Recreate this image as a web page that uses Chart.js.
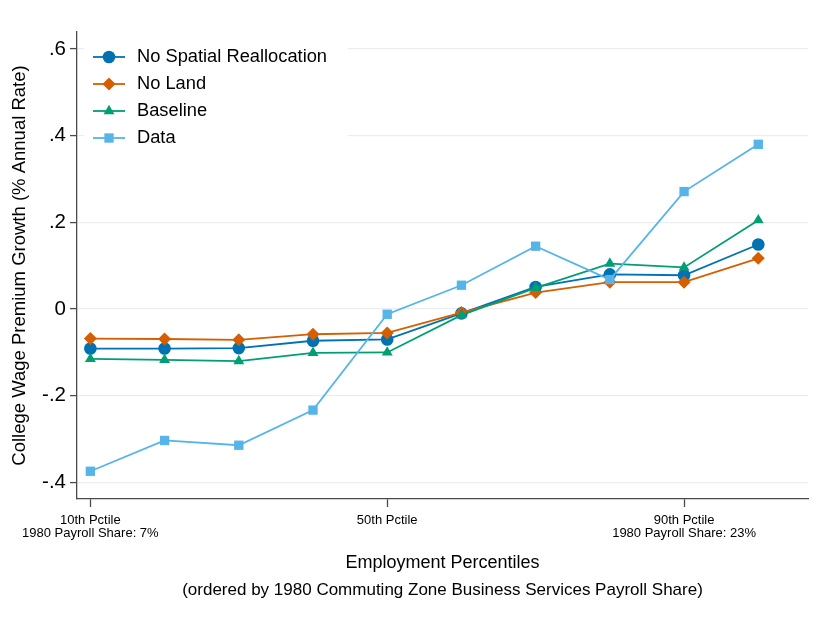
<!DOCTYPE html>
<html><head><meta charset="utf-8">
<script src="https://cdn.jsdelivr.net/npm/chart.js@4/dist/chart.umd.min.js"></script>
<style>html,body{margin:0;padding:0;background:#fff}#wrap{width:820px;height:624px;position:relative}</style>
</head><body><div id="wrap"><canvas id="c"></canvas></div>
<script>
const percentiles = [10, 20, 30, 40, 50, 60, 70, 80, 90, 100];
const noSpatialRealloc = [-0.091, -0.091, -0.090, -0.073, -0.070, -0.010, 0.051, 0.080, 0.078, 0.149];
const noLand = [-0.068, -0.069, -0.071, -0.058, -0.055, -0.008, 0.038, 0.062, 0.062, 0.117];
const baseline = [-0.115, -0.117, -0.120, -0.101, -0.100, -0.014, 0.049, 0.105, 0.096, 0.205];
const dataSeries = [-0.374, -0.303, -0.314, -0.233, -0.012, 0.055, 0.145, 0.068, 0.271, 0.380];
const seriesNames = ['No Spatial Reallocation', 'No Land', 'Baseline', 'Data'];
const yTickValues = [-0.4, -0.2, 0, 0.2, 0.4, 0.6];
const xTickValues = [10, 50, 90];
const xTickLabels = [['10th Pctile', '1980 Payroll Share: 7%'], ['50th Pctile'], ['90th Pctile', '1980 Payroll Share: 23%']];
const xTitle = 'Employment Percentiles';
const xSubtitle = '(ordered by 1980 Commuting Zone Business Services Payroll Share)';
const yTitle = 'College Wage Premium Growth (% Annual Rate)';

const FONT = "'Liberation Sans', Arial, Helvetica, sans-serif";
const colors = ['#0072B2', '#D55E00', '#009E73', '#56B4E9'];
const styles = ['circle', 'rectRot', 'triangle', 'rect'];
const radii = [6.3, 6.5, 6.3, 6.6];
const seriesValues = [noSpatialRealloc, noLand, baseline, dataSeries];
const drawOrder = [3, 2, 1, 0];

const datasets = seriesValues.map((vals, i) => ({
  label: seriesNames[i],
  data: percentiles.map((p, j) => ({x: p, y: vals[j]})),
  borderColor: colors[i],
  backgroundColor: colors[i],
  pointBackgroundColor: colors[i],
  pointBorderColor: colors[i],
  pointBorderWidth: 0,
  pointStyle: styles[i],
  pointRadius: radii[i],
  pointHoverRadius: radii[i],
  borderWidth: 1.8,
  tension: 0,
  showLine: true,
  order: drawOrder[i]
}));

const insideLegend = {
  id: 'insideLegend',
  afterDatasetsDraw(chart) {
    const ctx = chart.ctx;
    ctx.save();
    ctx.fillStyle = '#fff';
    ctx.fillRect(84, 38, 264, 114);
    seriesNames.forEach((name, i) => {
      const y = 57 + i * 27;
      ctx.strokeStyle = colors[i];
      ctx.lineWidth = 1.8;
      ctx.beginPath(); ctx.moveTo(93, y); ctx.lineTo(125, y); ctx.stroke();
      ctx.fillStyle = colors[i];
      Chart.helpers.drawPoint(ctx, {pointStyle: styles[i], radius: radii[i], borderWidth: 0, rotation: 0}, 109, y);
      ctx.fillStyle = '#000';
      ctx.font = '18.3px ' + FONT;
      ctx.textBaseline = 'middle';
      ctx.textAlign = 'left';
      ctx.fillText(name, 137, y);
    });
    ctx.restore();
  }
};

const subtitlePlugin = {
  id: 'xSubtitle',
  afterDraw(chart) {
    const ctx = chart.ctx;
    const a = chart.chartArea;
    ctx.save();
    ctx.fillStyle = '#000';
    ctx.font = '17px ' + FONT;
    ctx.textAlign = 'center';
    ctx.textBaseline = 'middle';
    ctx.fillText(xSubtitle, (a.left + a.right) / 2, 590);
    ctx.restore();
  }
};

const fmtY = v => {
  if (Math.abs(v) < 1e-9) return '0';
  return (v < 0 ? '-' : '') + Math.abs(v).toFixed(1).replace(/^0/, '');
};

new Chart(document.getElementById('c'), {
  type: 'scatter',
  data: {datasets},
  plugins: [insideLegend, subtitlePlugin],
  options: {
    responsive: true,
    maintainAspectRatio: false,
    animation: false,
    events: [],
    layout: {padding: {top: 32, right: 12, left: 0, bottom: 0}},
    plugins: {legend: {display: false}, tooltip: {enabled: false}},
    scales: {
      x: {
        type: 'linear',
        min: 8.2, max: 106.7,
        afterFit(s) { s.height = 125; },
        afterBuildTicks(s) { s.ticks = xTickValues.map(v => ({value: v})); },
        border: {display: true, color: '#4a4a4a', width: 1.3},
        grid: {drawOnChartArea: false, drawTicks: true, tickLength: 8, tickColor: '#4a4a4a', tickWidth: 1.3},
        ticks: {
          autoSkip: false, maxRotation: 0, padding: 7, color: '#000',
          font: {family: FONT, size: 13, lineHeight: 1.0},
          callback: (v) => xTickLabels[xTickValues.indexOf(v)] || ''
        },
        title: {
          display: true, text: xTitle, color: '#000',
          font: {family: FONT, size: 18, lineHeight: 1.2},
          padding: {top: 0, bottom: 50}
        }
      },
      y: {
        min: -0.438, max: 0.639,
        afterFit(s) { s.width = 77; },
        afterBuildTicks(s) { s.ticks = yTickValues.map(v => ({value: v})); },
        border: {display: true, color: '#4a4a4a', width: 1.3},
        grid: {color: '#e8eef2', lineWidth: 1.2, drawTicks: true, tickLength: 7, tickColor: '#4a4a4a', tickWidth: 1.3},
        ticks: {padding: 4, color: '#000', font: {family: FONT, size: 20.5}, callback: fmtY},
        title: {
          display: true, text: yTitle, color: '#000',
          font: {family: FONT, size: 18.5, lineHeight: 1.2},
          padding: {top: 9, bottom: 0}
        }
      }
    }
  }
});
</script>
</body></html>
